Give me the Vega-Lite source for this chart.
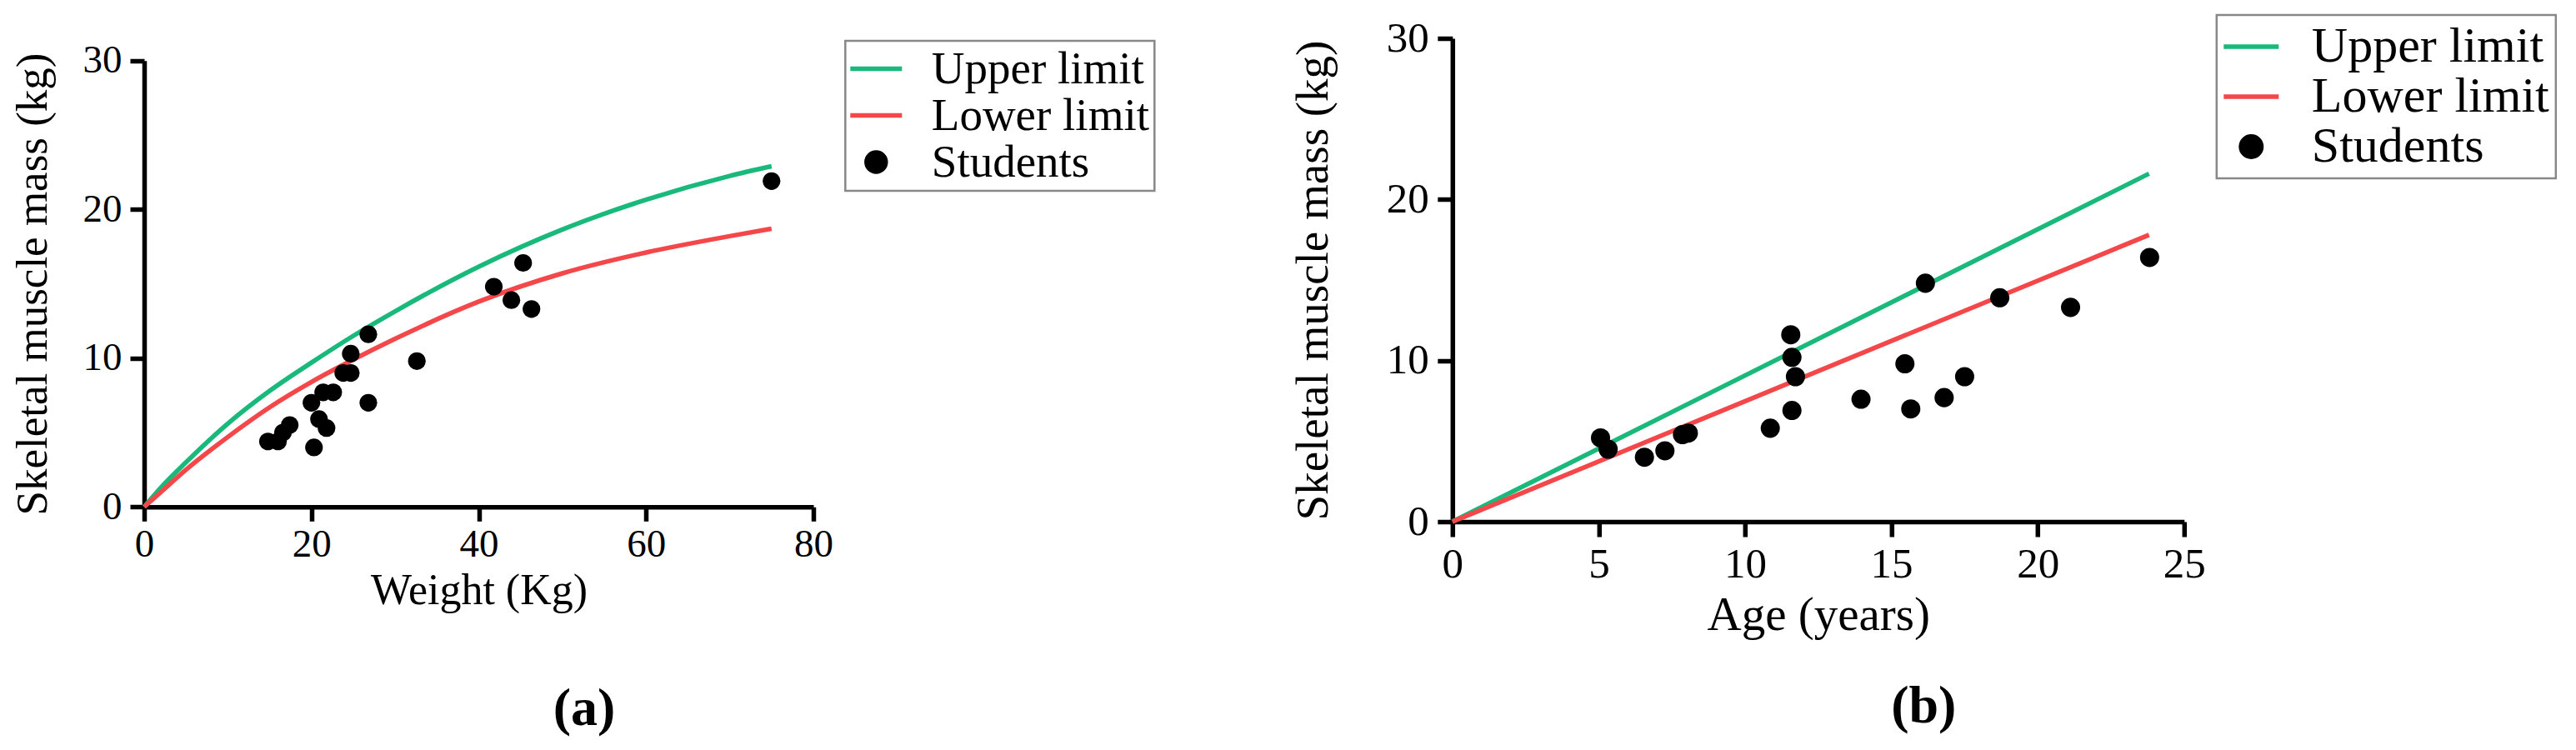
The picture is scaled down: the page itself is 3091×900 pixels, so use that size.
{
  "$schema": "https://vega.github.io/schema/vega-lite/v6.json",
  "background": "white",
  "padding": {"left": 12, "top": 16, "right": 0, "bottom": 0},
  "bounds": "flush",
  "spacing": 766.8,
  "datasets": {
    "curvesA": [
      {"x": 0, "y": 0, "series": "Upper limit"},
      {"x": 2, "y": 1.3, "series": "Upper limit"},
      {"x": 5, "y": 3.0, "series": "Upper limit"},
      {"x": 10, "y": 5.6, "series": "Upper limit"},
      {"x": 15, "y": 7.8, "series": "Upper limit"},
      {"x": 20, "y": 9.7, "series": "Upper limit"},
      {"x": 25, "y": 11.5, "series": "Upper limit"},
      {"x": 30, "y": 13.15, "series": "Upper limit"},
      {"x": 40, "y": 16.15, "series": "Upper limit"},
      {"x": 50, "y": 18.65, "series": "Upper limit"},
      {"x": 60, "y": 20.65, "series": "Upper limit"},
      {"x": 70, "y": 22.25, "series": "Upper limit"},
      {"x": 75, "y": 22.9, "series": "Upper limit"},
      {"x": 0, "y": 0, "series": "Lower limit"},
      {"x": 2, "y": 1.0, "series": "Lower limit"},
      {"x": 5, "y": 2.5, "series": "Lower limit"},
      {"x": 10, "y": 4.7, "series": "Lower limit"},
      {"x": 15, "y": 6.7, "series": "Lower limit"},
      {"x": 20, "y": 8.4, "series": "Lower limit"},
      {"x": 25, "y": 9.9, "series": "Lower limit"},
      {"x": 30, "y": 11.3, "series": "Lower limit"},
      {"x": 40, "y": 13.8, "series": "Lower limit"},
      {"x": 50, "y": 15.7, "series": "Lower limit"},
      {"x": 60, "y": 17.1, "series": "Lower limit"},
      {"x": 70, "y": 18.2, "series": "Lower limit"},
      {"x": 75, "y": 18.7, "series": "Lower limit"}
    ],
    "pointsA": [
      {"x": 75.0, "y": 21.9, "series": "Students"},
      {"x": 45.3, "y": 16.4, "series": "Students"},
      {"x": 41.8, "y": 14.8, "series": "Students"},
      {"x": 43.9, "y": 13.9, "series": "Students"},
      {"x": 46.3, "y": 13.3, "series": "Students"},
      {"x": 26.8, "y": 11.6, "series": "Students"},
      {"x": 24.7, "y": 10.3, "series": "Students"},
      {"x": 32.6, "y": 9.8, "series": "Students"},
      {"x": 23.8, "y": 9.0, "series": "Students"},
      {"x": 24.7, "y": 9.0, "series": "Students"},
      {"x": 22.6, "y": 7.7, "series": "Students"},
      {"x": 21.4, "y": 7.7, "series": "Students"},
      {"x": 26.8, "y": 7.0, "series": "Students"},
      {"x": 20.0, "y": 7.0, "series": "Students"},
      {"x": 20.9, "y": 5.9, "series": "Students"},
      {"x": 21.8, "y": 5.3, "series": "Students"},
      {"x": 17.4, "y": 5.5, "series": "Students"},
      {"x": 16.6, "y": 5.0, "series": "Students"},
      {"x": 14.8, "y": 4.4, "series": "Students"},
      {"x": 16.0, "y": 4.4, "series": "Students"},
      {"x": 20.3, "y": 4.0, "series": "Students"}
    ],
    "curvesB": [
      {"x": 0, "y": 0, "series": "Upper limit"},
      {"x": 23.8, "y": 21.6, "series": "Upper limit"},
      {"x": 0, "y": 0, "series": "Lower limit"},
      {"x": 23.8, "y": 17.8, "series": "Lower limit"}
    ],
    "pointsB": [
      {"x": 5.06, "y": 5.2, "series": "Students"},
      {"x": 5.32, "y": 4.5, "series": "Students"},
      {"x": 6.56, "y": 4.0, "series": "Students"},
      {"x": 7.26, "y": 4.4, "series": "Students"},
      {"x": 7.86, "y": 5.4, "series": "Students"},
      {"x": 8.06, "y": 5.5, "series": "Students"},
      {"x": 10.86, "y": 5.8, "series": "Students"},
      {"x": 11.56, "y": 11.6, "series": "Students"},
      {"x": 11.6, "y": 10.2, "series": "Students"},
      {"x": 11.72, "y": 9.0, "series": "Students"},
      {"x": 11.6, "y": 6.9, "series": "Students"},
      {"x": 13.96, "y": 7.6, "series": "Students"},
      {"x": 15.46, "y": 9.8, "series": "Students"},
      {"x": 15.66, "y": 7.0, "series": "Students"},
      {"x": 16.16, "y": 14.8, "series": "Students"},
      {"x": 16.8, "y": 7.7, "series": "Students"},
      {"x": 17.5, "y": 9.0, "series": "Students"},
      {"x": 18.7, "y": 13.9, "series": "Students"},
      {"x": 21.12, "y": 13.3, "series": "Students"},
      {"x": 23.82, "y": 16.4, "series": "Students"}
    ]
  },
  "config": {
    "view": {"stroke": null},
    "axis": {
      "grid": false,
      "domainColor": "black",
      "domainWidth": 5.5,
      "tickColor": "black",
      "tickWidth": 5.5,
      "labelFont": "Liberation Serif",
      "titleFont": "Liberation Serif",
      "labelColor": "black",
      "titleColor": "black",
      "titleFontWeight": "normal",
      "labelFlush": false,
      "labelOverlap": false
    },
    "legend": {
      "labelFont": "Liberation Serif",
      "labelColor": "black",
      "labelLimit": 600,
      "symbolOpacity": 1
    }
  },
  "resolve": {"scale": {"color": "independent"}},
  "hconcat": [
    {
      "width": 803,
      "height": 562.3,
      "title": {"text": "(a)", "orient": "bottom", "frame": "group", "anchor": "middle", "dx": 126.6, "offset": 85, "fontSize": 64, "font": "Liberation Serif", "fontWeight": "bold", "color": "black"},
      "layer": [
        {
          "data": {"name": "curvesA"},
          "mark": {"type": "line", "strokeWidth": 5.5, "interpolate": "monotone"},
          "encoding": {
            "x": {"field": "x", "type": "quantitative", "scale": {"domain": [0, 80], "nice": false},
              "axis": {"values": [0, 20, 40, 60, 80], "tickSize": 17, "labelPadding": 5, "labelFontSize": 47, "title": "Weight (Kg)", "titleFontSize": 52, "titlePadding": 7}},
            "y": {"field": "y", "type": "quantitative", "scale": {"domain": [0, 30], "nice": false, "range": [562.3, 26.7]},
              "axis": {"values": [0, 10, 20, 30], "tickSize": 17, "labelPadding": 10, "labelFontSize": 47, "title": "Skeletal muscle mass (kg)", "titleFontSize": 53, "titlePadding": 33}},
            "color": {"field": "series", "type": "nominal",
              "scale": {"domain": ["Upper limit", "Lower limit", "Students"], "range": ["#19b97b", "#f4474a", "#000000"]},
              "legend": {"orient": "none", "legendX": 841.3, "legendY": 3, "title": null, "labelFontSize": 55, "labelLimit": 600, "symbolSize": 961, "symbolStrokeWidth": 5.5, "padding": 6, "rowPadding": 0, "symbolOffset": 3.5, "labelOffset": 39, "strokeColor": "#888888", "fillColor": "white",
                "encode": {"symbols": {"update": {
                  "shape": {"signal": "datum.value === 'Students' ? 'M-0.74,0A0.74,0.74,0,1,1,0.74,0A0.74,0.74,0,1,1,-0.74,0Z' : 'M-2,0L2,0'"},
                  "fill": {"signal": "datum.value === 'Students' ? 'black' : 'transparent'"},
                  "stroke": {"signal": "datum.value === 'Upper limit' ? '#19b97b' : datum.value === 'Lower limit' ? '#f4474a' : 'transparent'"},
                  "strokeWidth": {"value": 5.5},
                  "size": {"value": 961},
                  "opacity": {"value": 1}
                }}, "legend": {"update": {"strokeWidth": {"value": 2.5}}}}}}
          }
        },
        {
          "data": {"name": "pointsA"},
          "mark": {"type": "point", "filled": true, "size": 450, "opacity": 1, "shape": "circle"},
          "encoding": {
            "x": {"field": "x", "type": "quantitative"},
            "y": {"field": "y", "type": "quantitative"},
            "color": {"field": "series", "type": "nominal"}
          }
        }
      ]
    },
    {
      "width": 878,
      "height": 580,
      "title": {"text": "(b)", "orient": "bottom", "frame": "group", "anchor": "middle", "dx": 126.5, "offset": 50, "fontSize": 64, "font": "Liberation Serif", "fontWeight": "bold", "color": "black"},
      "layer": [
        {
          "data": {"name": "curvesB"},
          "mark": {"type": "line", "strokeWidth": 5.5},
          "encoding": {
            "x": {"field": "x", "type": "quantitative", "scale": {"domain": [0, 25], "nice": false},
              "axis": {"values": [0, 5, 10, 15, 20, 25], "tickSize": 18, "labelPadding": 8, "labelFontSize": 51, "title": "Age (years)", "titleFontSize": 57, "titlePadding": 8}},
            "y": {"field": "y", "type": "quantitative", "scale": {"domain": [0, 30], "nice": false},
              "axis": {"values": [0, 10, 20, 30], "tickSize": 18, "labelPadding": 10.5, "labelFontSize": 51, "title": "Skeletal muscle mass (kg)", "titleFontSize": 55, "titlePadding": 59}},
            "color": {"field": "series", "type": "nominal",
              "scale": {"domain": ["Upper limit", "Lower limit", "Students"], "range": ["#19b97b", "#f4474a", "#000000"]},
              "legend": {"orient": "none", "legendX": 917, "legendY": -28, "title": null, "labelFontSize": 60, "labelLimit": 600, "symbolSize": 1089, "symbolStrokeWidth": 5.5, "padding": 8, "rowPadding": 0, "symbolOffset": 3.5, "labelOffset": 42.5, "strokeColor": "#888888", "fillColor": "white",
                "encode": {"symbols": {"update": {
                  "shape": {"signal": "datum.value === 'Students' ? 'M-0.74,0A0.74,0.74,0,1,1,0.74,0A0.74,0.74,0,1,1,-0.74,0Z' : 'M-2,0L2,0'"},
                  "fill": {"signal": "datum.value === 'Students' ? 'black' : 'transparent'"},
                  "stroke": {"signal": "datum.value === 'Upper limit' ? '#19b97b' : datum.value === 'Lower limit' ? '#f4474a' : 'transparent'"},
                  "strokeWidth": {"value": 5.5},
                  "size": {"value": 1089},
                  "opacity": {"value": 1}
                }}, "legend": {"update": {"strokeWidth": {"value": 2.5}}}}}}
          }
        },
        {
          "data": {"name": "pointsB"},
          "mark": {"type": "point", "filled": true, "size": 530, "opacity": 1, "shape": "circle"},
          "encoding": {
            "x": {"field": "x", "type": "quantitative"},
            "y": {"field": "y", "type": "quantitative"},
            "color": {"field": "series", "type": "nominal"}
          }
        }
      ]
    }
  ]
}
